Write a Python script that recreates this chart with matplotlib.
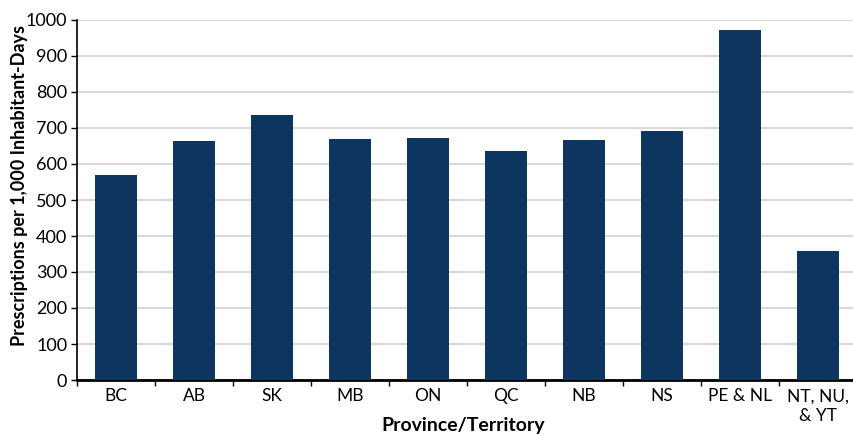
import matplotlib.pyplot as plt
from matplotlib.ticker import FixedLocator

regions = ["BC", "AB", "SK", "MB", "ON", "QC", "NB", "NS", "PE & NL", "NT, NU,\n& YT"]
rates = [569, 664, 736, 669, 672, 636, 667, 692, 971, 358]

BAR_COLOR = "#0c355f"
GRID_COLOR = "#d9d9d9"

plt.rcParams["font.family"] = ["Lato", "DejaVu Sans"]

fig = plt.figure(figsize=(8.54, 4.36), dpi=100)
ax = fig.add_axes([77 / 854, 56 / 436, 780 / 854, 360 / 436])

x = list(range(len(regions)))
ax.bar(x, rates, width=0.55, color=BAR_COLOR, zorder=3)

ax.set_xlim(-0.5, len(regions) - 0.5)
ax.set_ylim(0, 1000)
ax.set_yticks(range(0, 1001, 100))
ax.yaxis.grid(True, color=GRID_COLOR, linewidth=1.5, zorder=0)

# category labels centred, tick marks between categories
ax.set_xticks(x)
ax.set_xticklabels(regions, fontsize=12.5, va="top", linespacing=1.3)
ax.tick_params(axis="x", which="major", length=0, pad=6)
ax.xaxis.set_minor_locator(FixedLocator([i + 0.5 for i in range(-1, len(regions))]))
ax.tick_params(axis="x", which="minor", length=4, width=1, direction="out")
ax.tick_params(axis="y", length=4, width=1, direction="out", labelsize=13, pad=3)

for s in ["top", "right"]:
    ax.spines[s].set_visible(False)
ax.spines["left"].set_linewidth(1.2)
ax.spines["bottom"].set_linewidth(2)

fig.text(20 / 854, 1 - 185 / 436, "Prescriptions per 1,000 Inhabitant-Days",
         rotation=90, ha="center", va="center", fontsize=13, fontweight="bold")
fig.text(463 / 854, 1 - 425 / 436, "Province/Territory",
         ha="center", va="center", fontsize=14, fontweight="bold")

fig.savefig("out.png", dpi=100)
